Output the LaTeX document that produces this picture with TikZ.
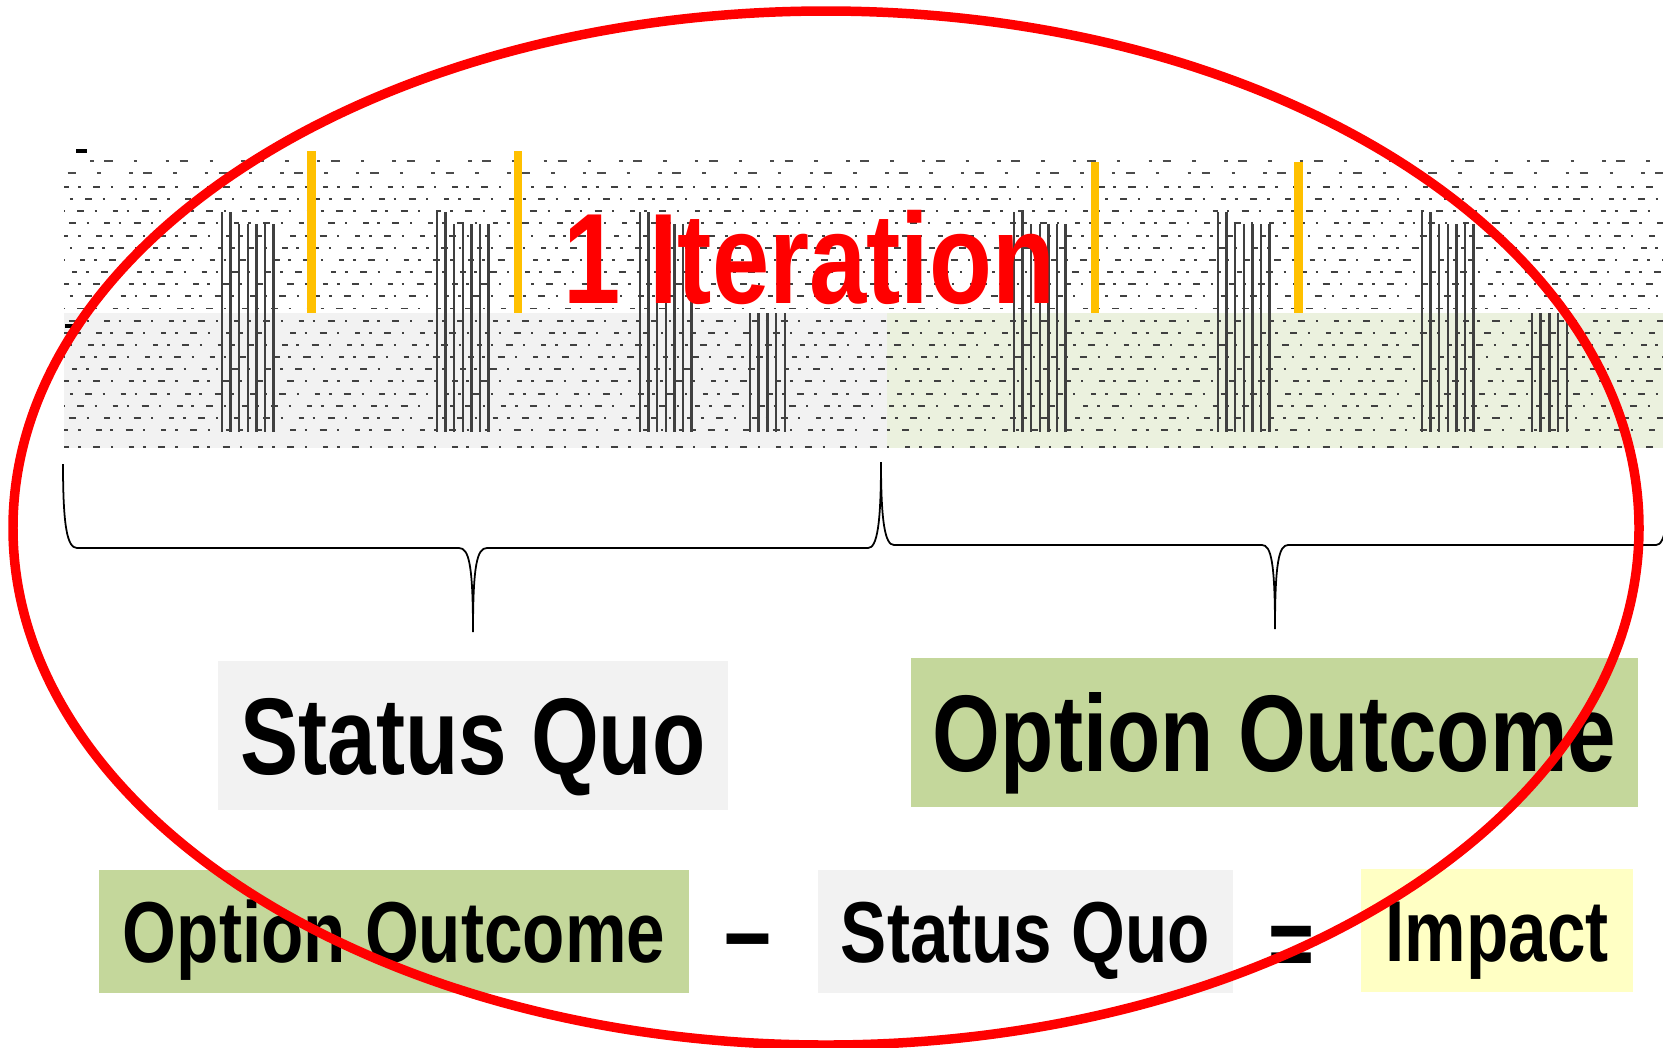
\documentclass[tikz,border=0pt]{standalone}
\usepackage{fontspec}
\newfontfamily\narrowfont[FakeStretch=0.8]{Liberation Sans}
\usetikzlibrary{positioning}
\definecolor{sqgray}{HTML}{F2F2F2}
\definecolor{oogreen}{HTML}{C4D79B}
\definecolor{bandgreen}{HTML}{EBF1DE}
\definecolor{impyellow}{HTML}{FFFFC4}
\definecolor{markorange}{HTML}{FFC000}

\tikzset{
    cellrow/.style={black!75, line width=0.55pt,
        dash pattern=on 1.5pt off 2.5pt on 0.8pt off 3.5pt on 2pt off 3pt on 0.6pt off 4.5pt},
    headrow/.style={black!70, line width=0.5pt,
        dash pattern=on 1pt off 3pt on 2.5pt off 6pt on 1pt off 8pt},
    colline/.style={black!75, line width=0.7pt},
    markbar/.style={markorange, line width=2.4pt},
    bracefine/.style={black, line width=0.5pt},
    bigtag/.style={inner sep=0pt, text height=0.78cm, text depth=0pt,
        minimum height=1.49cm, font=\narrowfont\bfseries\fontsize{31}{36}\selectfont},
    smalltag/.style={inner sep=0pt, text height=0.62cm, text depth=0pt,
        minimum height=1.23cm, font=\narrowfont\bfseries\fontsize{24.6}{30}\selectfont},
    optag/.style={inner sep=0pt, font=\narrowfont\bfseries\fontsize{#1}{34}\selectfont},
}

\begin{document}
\begin{tikzpicture}[x=0.01cm, y=-0.01cm]

    \useasboundingbox (0,0) rectangle (1663,1047);
    \clip (0,0) rectangle (1663,1047);

    % ---------------- Spreadsheet bands ----------------
    \fill[sqgray] (64,313) rectangle (887,448);
    \fill[bandgreen] (887,313) rectangle (1663,448);

    % ---------------- Spreadsheet rows ----------------
    \draw[headrow] (90,161) -- (1663,161);
    \draw[headrow, dash phase=3pt] (64,173) -- (1663,173);
    \foreach \r [evaluate=\r as \ph using \r*2.3] in {0,...,20}
        \draw[cellrow, dash phase=\ph pt] (64,{187+12.15*\r}) -- (1663,{187+12.15*\r});
    \draw[cellrow, line width=0.4pt] (64,447) -- (1663,447);
    \draw[black, line width=0.9pt] (76,151) -- (87,151);
    \draw[black, line width=0.9pt] (65,326) -- (75,326);

    % ---------------- Column lines ----------------
    \foreach \s in {222,437,640,1014,1218,1422}
        \foreach \k in {0,...,6} {
            \pgfmathsetmacro\ctop{\k<2 ? 212 : 224}
            \draw[colline] ({\s+8.6*\k},\ctop) -- ({\s+8.6*\k},432);
        }
    \foreach \s in {750,1532}
        \foreach \k in {0,...,4}
            \draw[colline] ({\s+8.7*\k},313) -- ({\s+8.7*\k},432);

    % ---------------- Orange markers ----------------
    \foreach \x/\t in {311.5/151,518/151,1095/162,1298.5/162}
        \draw[markbar] (\x,\t) -- (\x,313);

    % ---------------- Title ----------------
    \node[red, inner sep=0pt, text height=0.92cm, text depth=0pt,
        font=\narrowfont\bfseries\fontsize{36.6}{42}\selectfont] (iter) at (809.5,257) {1 Iteration};

    % ---------------- Braces ----------------
    \draw[bracefine] (63,464) .. controls (63,525) and (67,548) .. (77,548) -- (459,548)
        .. controls (469,548) and (473,565) .. (473,632)
        .. controls (473,565) and (477,548) .. (487,548) -- (868,548)
        .. controls (877,548) and (881,525) .. (881,462);
    \draw[bracefine] (881,462) .. controls (881,522) and (885,545) .. (894,545) -- (1262,545)
        .. controls (1271,545) and (1275,562) .. (1275,629)
        .. controls (1275,562) and (1279,545) .. (1288,545) -- (1656,545)
        .. controls (1665,545) and (1669,522) .. (1669,462);

    % ---------------- Labels ----------------
    \node[bigtag, fill=sqgray, minimum width=5.10cm] (sq) at (473,735.5) {Status Quo};
    \node[bigtag, fill=oogreen, minimum width=7.27cm] (oo) at (1274.5,732.5) {Option Outcome};

    % ---------------- Equation ----------------
    \node[smalltag, fill=oogreen, minimum width=5.90cm] (eqoo) at (394,931.5) {Option Outcome};
    \node[optag=30, anchor=base] (minus) at (748,967) {–};
    \node[smalltag, fill=sqgray, minimum width=4.15cm] (eqsq) at (1025.5,931.5) {Status Quo};
    \node[optag=28, anchor=base] (equals) at (1291,977) {=};
    \node[smalltag, fill=impyellow, minimum width=2.72cm] (impact) at (1497,930.5) {Impact};

    % ---------------- Iteration ring ----------------
    \draw[red, line width=2.7pt] (826,528) ellipse [x radius=813, y radius=517];

\end{tikzpicture}
\end{document}
